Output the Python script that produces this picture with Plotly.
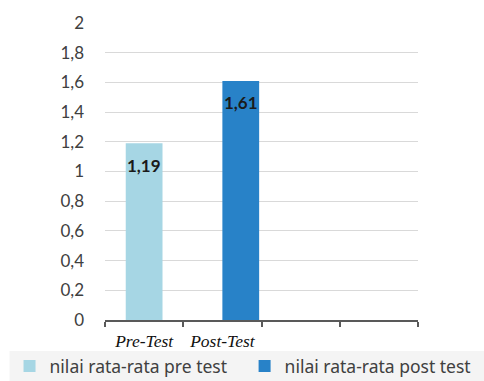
import plotly.graph_objects as go

# Mean scores before and after the treatment
categories = ["Pre-Test", "Post-Test", " ", "  "]
series_names = ["nilai rata-rata pre test", "nilai rata-rata post test"]
series_values = [1.19, 1.61]
bar_colors = ["#a6d6e4", "#2882c8"]
y_ticks = [0, 0.2, 0.4, 0.6, 0.8, 1, 1.2, 1.4, 1.6, 1.8, 2]

def fmt(v):
    return f"{v:.2f}".replace(".", ",")

fig = go.Figure()

legend_font = dict(family="Noto Sans, sans-serif", size=17.5, color="#404040")

# Pre-test bar centred on its category, post-test bar starting at its category centre
bar_offsets = [-0.235, 0.0]
legend_ids = ["legend", "legend2"]
for i, (name, val, col, off) in enumerate(zip(series_names, series_values, bar_colors, bar_offsets)):
    fig.add_trace(go.Bar(
        x=[categories[i]], y=[val], name=name,
        marker=dict(color=col, line=dict(width=0)),
        width=0.47, offset=off, legend=legend_ids[i],
    ))
    fig.add_annotation(
        x=categories[i], y=val, xref="x", yref="y",
        xshift=(off + 0.235) * 78.25,
        yshift=-22, text=f"<b>{fmt(val)}</b>", showarrow=False,
        font=dict(family="Lato, Noto Sans, sans-serif", size=17, color="#1a1a1a"),
    )

# light band behind the legend
fig.add_shape(type="rect", xref="paper", yref="paper",
              x0=-0.305, x1=1.215, y0=-0.206, y1=-0.104,
              fillcolor="#f4f4f4", line=dict(width=0), layer="below")

legend_common = dict(
    orientation="h", y=-0.155, yanchor="middle", xanchor="left",
    font=legend_font, bgcolor="rgba(0,0,0,0)", itemsizing="constant",
)

fig.update_layout(
    width=484, height=381,
    margin=dict(l=105, r=66, t=23, b=61, autoexpand=False),
    paper_bgcolor="white", plot_bgcolor="white",
    separators=", ",
    barmode="overlay",
    showlegend=True,
    legend=dict(x=-0.305, **legend_common),
    legend2=dict(x=0.446, **legend_common),
    xaxis=dict(
        type="category", categoryorder="array", categoryarray=categories,
        range=[-0.5, 3.5], tickson="boundaries", tickangle=0,
        ticks="outside", ticklen=5, tickwidth=2, tickcolor="#595959",
        showline=True, linecolor="#595959", linewidth=2,
        showgrid=False, fixedrange=True, ticklabelstandoff=4,
        tickfont=dict(family="Liberation Serif, serif", size=17.5, color="#111111", style="italic"),
    ),
    yaxis=dict(
        range=[0, 2], tickvals=y_ticks, showgrid=True, gridcolor="#d9d9d9", gridwidth=1,
        zeroline=False, showline=False, ticks="",
        ticklabelstandoff=20,
        tickfont=dict(family="Lato, Noto Sans, sans-serif", size=17, color="#404040"),
    ),
)

fig.write_html("out.html")
